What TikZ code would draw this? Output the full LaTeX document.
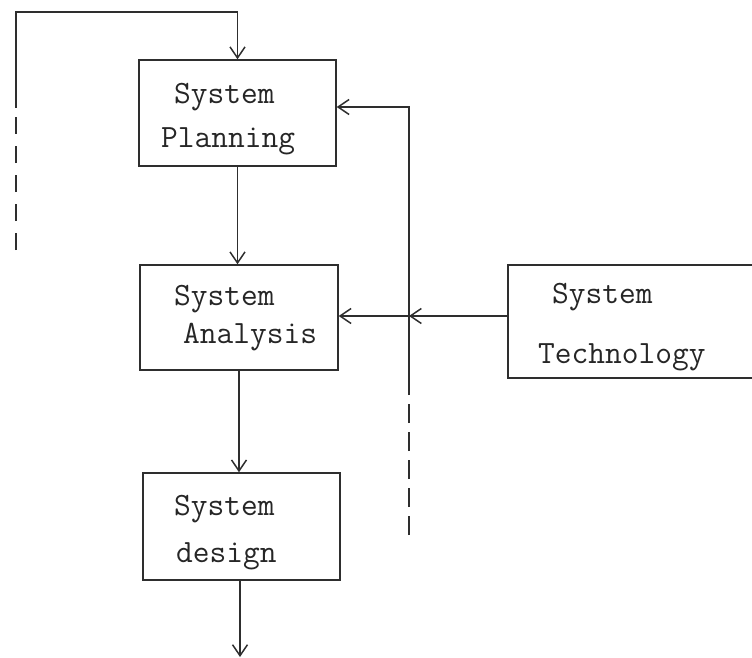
\documentclass[tikz,border=0pt]{standalone}
\usetikzlibrary{arrows.meta}
\begin{document}
\begin{tikzpicture}[x=1pt,y=-1pt,
  ink/.style={line width=1.5pt,draw=black!82},
  box/.style={ink,rectangle,inner sep=0pt},
  txt/.style={anchor=base west,inner sep=0pt,font=\ttfamily\fontsize{32.5}{32.5}\selectfont,text=black!85},
  arr/.style={ink,-{Straight Barb[length=11pt,width=15pt,line width=1.5pt]}},
  dsh/.style={ink,dash pattern=on 17pt off 12pt}]
\useasboundingbox (0,0) rectangle (752,658);
% boxes
\node[box,minimum width=197pt,minimum height=106pt] (plan) at (237.5,113) {};
\node[box,minimum width=198pt,minimum height=105pt] (anal) at (239,317.5) {};
\node[box,minimum width=197pt,minimum height=107pt] (des) at (241.5,526.5) {};
\node[box,minimum width=262pt,minimum height=113pt] (tech) at (639,321.5) {};
% texts
\node[txt] (t1) at (174,104) {System};
\node[txt] (t2) at (161,147) {Planning};
\node[txt] (t3) at (174,305) {System};
\node[txt] (t4) at (183,343) {Analysis};
\node[txt] (t5) at (174,515) {System};
\node[txt] (t6) at (176,562) {design};
\node[txt] (t7) at (552,303) {System};
\node[txt] (t8) at (538,363) {Technology};
% coordinates
\coordinate (lb) at (16,250);
\coordinate (lm) at (16,108);
\coordinate (lt) at (16,12);
\coordinate (vb) at (409,535);
\coordinate (vm) at (409,386);
\coordinate (vt) at (409,107);
\coordinate (j) at (409,316);
\coordinate (out) at (240,657);
% top loop
\draw[dsh] (lb) -- (lm);
\draw[arr] (lm) -- (lt) -- (lt -| plan.north) -- (plan.north);
% right feedback
\draw[ink,dash pattern=on 19pt off 9pt] (vb) -- (vm);
\draw[arr] (vm) -- (vt) -- (vt -| plan.east);
% technology to analysis
\draw[arr] (tech.west |- j) -- (j);
\draw[arr] (j) -- (j -| anal.east);
% main chain
\draw[arr] (plan.south) -- (plan.south |- anal.north);
\draw[arr] (anal.south) -- (anal.south |- des.north);
\draw[arr] (des.south -| out) -- (out);
\end{tikzpicture}
\end{document}
